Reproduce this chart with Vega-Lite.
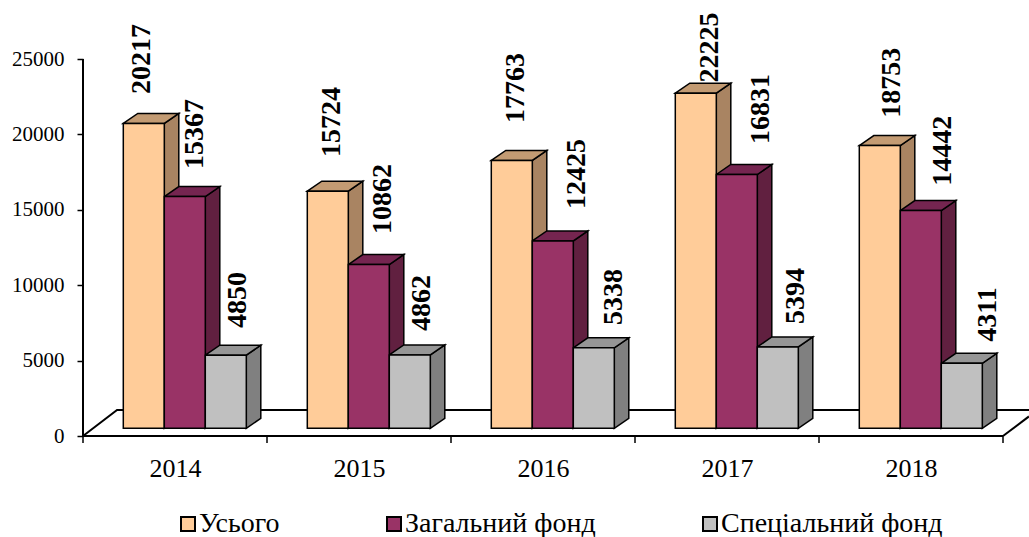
{
"$schema":"https://vega.github.io/schema/vega-lite/v6.json",
"width":946,"height":377,
"autosize":{"type":"none"},
"padding":{"left":83,"top":59,"right":0,"bottom":101},
"background":"white",
"config":{"view":{"stroke":null},"font":"Liberation Serif"},
"datasets":{
"values":[
{"year":2014,"series":"Усього","value":20217},{"year":2014,"series":"Загальний фонд","value":15367},{"year":2014,"series":"Спеціальний фонд","value":4850},
{"year":2015,"series":"Усього","value":15724},{"year":2015,"series":"Загальний фонд","value":10862},{"year":2015,"series":"Спеціальний фонд","value":4862},
{"year":2016,"series":"Усього","value":17763},{"year":2016,"series":"Загальний фонд","value":12425},{"year":2016,"series":"Спеціальний фонд","value":5338},
{"year":2017,"series":"Усього","value":22225},{"year":2017,"series":"Загальний фонд","value":16831},{"year":2017,"series":"Спеціальний фонд","value":5394},
{"year":2018,"series":"Усього","value":18753},{"year":2018,"series":"Загальний фонд","value":14442},{"year":2018,"series":"Спеціальний фонд","value":4311}
],
"frame":[
{"part":"yaxis","x":0,"y":0},{"part":"yaxis","x":0,"y":25000},
{"part":"back","x":0,"y":0},{"part":"back","x":0.185,"y":1724},{"part":"back","x":5.1413,"y":1724},
{"part":"front","x":0,"y":0},{"part":"front","x":5,"y":0},
{"part":"side","x":5,"y":0},{"part":"side","x":5.1413,"y":1300}
],
"ticks":[{"t":0},{"t":1},{"t":2},{"t":3},{"t":4},{"t":5}],
"years":[{"c":0.5},{"c":1.5},{"c":2.5},{"c":3.5},{"c":4.5}]
},
"layer":[
{"data":{"name":"years"},
 "mark":{"type":"point","opacity":0},
 "encoding":{
  "x":{"field":"c","type":"quantitative","scale":{"domain":[0,5.1413],"nice":false,"zero":false},
   "axis":{"values":[0.5,1.5,2.5,3.5,4.5],"title":null,"domain":false,"ticks":false,"grid":false,"labelExpr":"2014+floor(datum.value)","labelFontSize":26,"labelColor":"black","labelPadding":19,"labelFont":"Liberation Serif"}},
  "y":{"datum":0,"type":"quantitative","scale":{"domain":[0,25000],"nice":false},
   "axis":{"values":[0,5000,10000,15000,20000,25000],"format":"d","title":null,"domain":false,"grid":false,"tickColor":"black","tickWidth":1.5,"tickSize":6,"labelFontSize":21,"labelColor":"black","labelPadding":13,"labelFont":"Liberation Serif"}}
 }},
{"data":{"name":"frame"},
 "mark":{"type":"line","stroke":"black","strokeWidth":2},
 "encoding":{
  "x":{"field":"x","type":"quantitative","axis":{"title":null}},
  "y":{"field":"y","type":"quantitative","axis":{"title":null}},
  "detail":{"field":"part"}
 }},
{"data":{"name":"ticks"},
 "mark":{"type":"rule","stroke":"black","strokeWidth":1.5},
 "encoding":{
  "x":{"field":"t","type":"quantitative","axis":{"title":null}},
  "y":{"datum":0,"type":"quantitative","axis":{"title":null}},
  "y2":{"datum":-464}
 }},
{"data":{"name":"values"},
 "transform":[
  {"calculate":"(datum.year-2014)*3+indexof(['Усього','Загальний фонд','Спеціальний фонд'],datum.series)","as":"i"},
  {"calculate":"([142.2,195.3,237.7,332,383,422,516,577,614,709.7,761,795.5,892,943,987.7][datum.i]-83)/184","as":"xc"},
  {"calculate":"(436-[94,169,328,157,234,331,123,209,325,82.5,144,324,117.7,185.7,341.7][datum.i])/0.01508","as":"ly"}
 ],
 "mark":{"type":"text","angle":270,"align":"left","baseline":"middle","fontSize":28,"fontWeight":"bold","font":"Liberation Serif","color":"black"},
 "encoding":{
  "x":{"field":"xc","type":"quantitative","axis":{"title":null}},
  "y":{"field":"ly","type":"quantitative","axis":{"title":null}},
  "text":{"field":"value","type":"nominal"}
 }},
{"data":{"name":"values"},
 "transform":[
  {"calculate":"indexof(['Усього','Загальний фонд','Спеціальний фонд'],datum.series)","as":"si"},
  {"calculate":"(datum.year-2014)+(40.3+41*datum.si)/184","as":"x0"},
  {"calculate":"datum.x0+41/184","as":"x1"},
  {"calculate":"datum.value+510","as":"top"},
  {"calculate":"[{k:'side',x:datum.x1,y:datum.top,y2:510},{k:'side',x:datum.x1+0.0788,y:datum.top+663,y2:1173},{k:'top',x:datum.x0,y:datum.top,y2:datum.top},{k:'top',x:datum.x0+0.0788,y:datum.top+663,y2:datum.top},{k:'top',x:datum.x1,y:datum.top+663,y2:datum.top},{k:'top',x:datum.x1+0.0788,y:datum.top+663,y2:datum.top+663}]","as":"p"},
  {"flatten":["p"]},
  {"calculate":"datum.p.x","as":"px"},
  {"calculate":"datum.p.y","as":"py"},
  {"calculate":"datum.p.y2","as":"py2"},
  {"calculate":"datum.series+'|'+datum.p.k","as":"face"},
  {"calculate":"datum.year+'|'+datum.face","as":"poly"}
 ],
 "mark":{"type":"area","stroke":"black","strokeWidth":1.5,"opacity":1},
 "encoding":{
  "x":{"field":"px","type":"quantitative","axis":{"title":null}},
  "y":{"field":"py","type":"quantitative","axis":{"title":null},"stack":null},
  "y2":{"field":"py2"},
  "detail":{"field":"poly"},
  "fill":{"field":"face","type":"nominal","legend":null,
   "scale":{"domain":["Усього|side","Усього|top","Загальний фонд|side","Загальний фонд|top","Спеціальний фонд|side","Спеціальний фонд|top"],
   "range":["#A98462","#C39B73","#612040","#752550","#808080","#969696"]}}
 }},
{"data":{"name":"values"},
 "transform":[
  {"calculate":"indexof(['Усього','Загальний фонд','Спеціальний фонд'],datum.series)","as":"si"},
  {"calculate":"(datum.year-2014)+(40.3+41*datum.si)/184","as":"x0"},
  {"calculate":"datum.x0+41/184","as":"x1"},
  {"calculate":"datum.value+510","as":"top"},
  {"calculate":"510","as":"base"}
 ],
 "mark":{"type":"rect","stroke":"black","strokeWidth":1.5},
 "encoding":{
  "x":{"field":"x0","type":"quantitative","axis":{"title":null}},
  "x2":{"field":"x1"},
  "y":{"field":"top","type":"quantitative","axis":{"title":null}},
  "y2":{"field":"base"},
  "color":{"field":"series","type":"nominal","title":null,
   "scale":{"domain":["Усього","Загальний фонд","Спеціальний фонд"],"range":["#FFCC99","#993366","#C0C0C0"]},
   "legend":{"orient":"none","legendX":91,"legendY":451,"direction":"horizontal","columns":3,"columnPadding":100,"symbolType":"square","symbolSize":196,"symbolStrokeColor":"black","symbolStrokeWidth":2,"symbolOpacity":1,"labelFontSize":28,"labelColor":"black","labelFont":"Liberation Serif","labelOffset":-3,"title":null,"labelLimit":400}}
 }}
]
}
